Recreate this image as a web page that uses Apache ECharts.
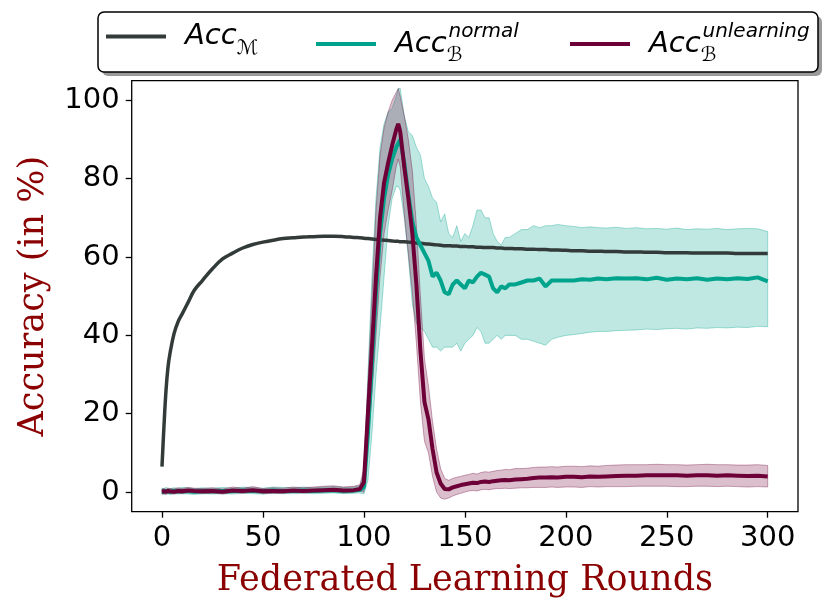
<!DOCTYPE html>
<html lang="en">
<head>
  <meta charset="UTF-8">
  <title>Accuracy over federated learning rounds</title>
  <style>
    * { margin: 0; padding: 0; }
    html, body { width: 830px; height: 614px; background: #fff; }
    #chart { width: 830px; height: 614px; }
  </style>
</head>
<body>
  <div id="chart"></div>

  <script src="https://cdn.jsdelivr.net/npm/echarts@6/dist/echarts.min.js"></script>
  <script>
    const rounds = [
      0, 1, 2, 3, 4, 6, 8, 10, 13, 16,
      20, 25, 30, 35, 40, 45, 50, 55, 60, 65,
      70, 75, 80, 85, 90, 95, 98, 100, 102, 104,
      106, 108, 110, 112, 114, 116, 117, 118, 120, 122,
      124, 126, 128, 130, 132, 134, 136, 138, 140, 142,
      144, 146, 148, 150, 152, 154, 156, 158, 160, 162,
      164, 166, 168, 170, 172, 175, 178, 181, 184, 187,
      190, 193, 196, 200, 204, 208, 212, 216, 220, 225,
      230, 235, 240, 245, 250, 255, 260, 265, 270, 275,
      280, 285, 290, 295, 300
    ];

    // Acc_M (main task accuracy)
    const accM = [
      6.5, 17, 26, 32, 35.5, 40.5, 43.5, 45.5, 48.5, 51.5,
      54, 57, 59.5, 61, 62.3, 63.2, 63.8, 64.3, 64.7, 64.9,
      65.1, 65.2, 65.3, 65.3, 65.2, 65, 64.9, 64.8, 64.7, 64.6,
      64.5, 64.4, 64.3, 64.2, 64.1, 64, 64, 63.9, 63.9, 63.8,
      63.7, 63.6, 63.5, 63.4, 63.3, 63.2, 63.1, 63, 62.9, 62.9,
      62.8, 62.8, 62.7, 62.7, 62.6, 62.6, 62.5, 62.5, 62.4, 62.4,
      62.4, 62.3, 62.3, 62.2, 62.2, 62.1, 62.1, 62, 62, 61.9,
      61.9, 61.8, 61.8, 61.7, 61.6, 61.6, 61.5, 61.5, 61.4, 61.4,
      61.3, 61.3, 61.2, 61.2, 61.1, 61.1, 61.1, 61, 61, 61,
      61, 60.9, 60.9, 60.9, 60.9
    ];

    // Acc_B normal: mean, upper and lower edge of the band
    const normalMean = [
      0.2, 0.1, 0.3, 0.2, 0.1, 0.3, 0.2, 0.3, 0.2, 0.1,
      0.3, 0.2, 0.3, 0.2, 0.4, 0.3, 0.2, 0.4, 0.3, 0.3,
      0.4, 0.3, 0.4, 0.5, 0.3, 0.4, 0.6, 1.2, 15, 33,
      51, 66, 75, 81, 85, 88, 89, 90, 84, 76,
      69, 65, 63, 61, 59, 55, 56, 54, 51, 50.5,
      53, 54, 53, 52, 54, 53.5, 55, 56, 55.5, 55,
      52, 51, 52.5, 52, 53, 53, 53.5, 54, 54, 54.5,
      52.5, 54, 54, 54, 54, 54.3, 54.2, 54.5, 54.3, 54.6,
      54.5, 54.6, 54.3, 54.7, 54.2, 54.5, 54.3, 54.6, 54.2, 54.5,
      54.3, 54.6, 54.4, 54.8, 53.8
    ];
    const normalHigh = [
      1.0, 0.9, 1.2, 1.0, 0.9, 1.1, 1.0, 1.2, 1.1, 0.9,
      1.1, 1.0, 1.2, 1.0, 1.3, 1.1, 1.0, 1.3, 1.2, 1.1,
      1.3, 1.1, 1.3, 1.4, 1.2, 1.3, 1.6, 5, 30, 55,
      75, 88, 94, 97, 98, 101, 103, 103, 96, 92,
      91, 88, 86, 80, 78, 75, 74, 69, 71, 66,
      65, 68, 64, 66, 65, 68, 72, 72, 70, 70,
      66, 64, 63, 65, 65, 66, 67, 67, 68, 67.5,
      68, 68, 68.3, 68, 67.8, 67.5, 67.7, 67.5, 67.4, 67.6,
      67.3, 67.5, 67.2, 67.3, 67.1, 67.4, 67, 67.2, 67.1, 67.3,
      67, 67.2, 67.3, 67.2, 66.5
    ];
    const normalLow = [
      -0.5, -0.6, -0.4, -0.5, -0.6, -0.4, -0.5, -0.4, -0.5, -0.6,
      -0.4, -0.5, -0.4, -0.5, -0.3, -0.4, -0.5, -0.3, -0.4, -0.4,
      -0.3, -0.4, -0.3, -0.2, -0.4, -0.3, -0.2, -0.5, 3, 15,
      30, 42, 55, 68, 75, 78, 78, 77, 70, 60,
      48, 43, 42, 41, 39, 37, 37, 36, 37, 37,
      37, 38, 36, 38, 39, 40, 42, 41, 38, 38,
      39, 40, 39, 40, 40, 40, 39, 39, 38.5, 38,
      37.5, 39, 39.5, 40, 40.2, 40.5, 40.8, 41, 41, 41.2,
      41.3, 41.4, 41.6, 41.5, 41.7, 41.8, 41.6, 41.9, 41.8, 42,
      41.9, 42.1, 42, 42.3, 42.2
    ];

    // Acc_B unlearning: mean, upper and lower edge of the band
    const unlearnMean = [
      0.1, 0.2, 0.1, 0.3, 0.2, 0.1, 0.3, 0.2, 0.4, 0.3,
      0.2, 0.3, 0.1, 0.4, 0.3, 0.5, 0.2, 0.3, 0.2, 0.4,
      0.3, 0.4, 0.5, 0.6, 0.4, 0.5, 0.8, 2.5, 20, 37,
      55, 70, 79, 84, 88.5, 92.5, 94, 92, 83, 75,
      66, 53, 36, 23, 18.5, 11, 5, 2.2, 0.8, 0.7,
      1.2, 1.5, 1.8, 2.0, 2.2, 2.4, 2.3, 2.6, 2.7, 2.6,
      2.8, 2.9, 3.0, 3.1, 3.0, 3.2, 3.3, 3.4, 3.6, 3.7,
      3.7, 3.8, 3.7, 3.9, 3.9, 3.8, 4.0, 3.9, 4.0, 4.1,
      4.2, 4.2, 4.3, 4.3, 4.3, 4.3, 4.2, 4.3, 4.3, 4.2,
      4.3, 4.2, 4.1, 4.2, 4.0
    ];
    const unlearnHigh = [
      0.8, 0.9, 0.7, 1.0, 0.9, 0.8, 1.1, 0.9, 1.2, 1.0,
      0.9, 1.1, 0.8, 1.3, 1.0, 1.4, 0.9, 1.1, 1.0, 1.3,
      1.1, 1.3, 1.5, 1.6, 1.3, 1.5, 1.9, 6, 28, 50,
      72, 86, 93, 97, 100, 102, 103, 101, 96, 90,
      82, 68, 50, 34, 27, 18, 11, 6, 3.5, 3,
      3.5, 3.8, 4, 4.3, 4.5, 4.8, 4.6, 5, 5.2, 5.1,
      5.3, 5.5, 5.6, 5.8, 5.7, 6, 6, 6.1, 6.3, 6.4,
      6.4, 6.5, 6.4, 6.6, 6.6, 6.5, 6.7, 6.6, 6.8, 6.9,
      7, 7, 7, 7.1, 7, 7, 6.9, 7, 7.1, 7,
      7, 6.9, 6.9, 7, 6.8
    ];
    const unlearnLow = [
      -0.5, -0.4, -0.6, -0.3, -0.4, -0.5, -0.2, -0.4, -0.1, -0.3,
      -0.4, -0.2, -0.5, -0.1, -0.3, 0, -0.4, -0.2, -0.3, -0.1,
      -0.2, -0.1, 0, 0.1, -0.2, 0, 0.2, 0, 12, 25,
      40, 55, 66, 72, 77, 83, 85, 83, 71, 61,
      51, 38, 23, 13, 10, 4, 0, -1.5, -1.8, -1.5,
      -1, -0.6, -0.3, 0, 0.3, 0.4, 0.3, 0.6, 0.7, 0.6,
      0.8, 0.9, 0.9, 1.0, 0.9, 1.0, 1.1, 1.1, 1.2, 1.2,
      1.2, 1.3, 1.2, 1.3, 1.3, 1.2, 1.4, 1.3, 1.4, 1.4,
      1.4, 1.5, 1.5, 1.5, 1.5, 1.4, 1.4, 1.5, 1.5, 1.4,
      1.5, 1.4, 1.3, 1.4, 1.3
    ];

    const xTicks = [0, 50, 100, 150, 200, 250, 300];
    const yTicks = [0, 20, 40, 60, 80, 100];

    const GREY = '#323b39';
    const TEAL = '#00a38c';
    const MAROON = '#6e0038';

    const chart = echarts.init(document.getElementById('chart'), null, { renderer: 'canvas' });

    const pairs = ys => rounds.map((r, i) => [r, ys[i]]);

    // fill_between look-alike: one polygon through api.coord
    function band(name, lo, hi, rgb) {
      return {
        name: name,
        type: 'custom',
        coordinateSystem: 'cartesian2d',
        z: 1,
        silent: true,
        data: rounds.map((r, i) => [r, lo[i], hi[i]]),
        encode: { x: 0, y: [1, 2] },
        renderItem: (params, api) => {
          if (params.dataIndex !== 0) return null;
          const pts = [];
          for (let i = 0; i < rounds.length; i++) pts.push(api.coord([rounds[i], hi[i]]));
          for (let i = rounds.length - 1; i >= 0; i--) pts.push(api.coord([rounds[i], lo[i]]));
          return {
            type: 'polygon',
            shape: { points: pts },
            style: {
              fill: 'rgba(' + rgb + ',0.25)',
              stroke: 'rgba(' + rgb + ',0.35)',
              lineWidth: 1
            }
          };
        }
      };
    }

    function line(name, ys, color, width, z, smooth) {
      return {
        name: name,
        type: 'line',
        data: pairs(ys),
        symbol: 'none',
        smooth: smooth || false,
        z: z,
        lineStyle: { color: color, width: width },
        itemStyle: { color: color }
      };
    }

    const legendRich = {
      acc: { fontFamily: 'DejaVu Sans', fontStyle: 'italic', fontSize: 29, lineHeight: 44, verticalAlign: 'middle', color: '#000' },
      sub: { fontFamily: 'DejaVu Sans', fontStyle: 'italic', fontSize: 20, lineHeight: 26, verticalAlign: 'bottom', color: '#000' },
      supB: { fontFamily: 'DejaVu Sans', fontStyle: 'italic', fontSize: 20, lineHeight: 26, verticalAlign: 'top', color: '#000', padding: [0, 0, 0, -14] }
    };

    function legendAt(left, name, text) {
      return {
        data: [name],
        left: left,
        top: 22,
        padding: 0,
        icon: 'rect',
        itemWidth: 60,
        itemHeight: 4,
        selectedMode: false,
        formatter: () => text,
        textStyle: { padding: [0, 0, 0, 14], rich: legendRich }
      };
    }

    const option = {
      animation: false,
      backgroundColor: '#fff',
      grid: {
        left: 131.7, right: 32, top: 80.7, bottom: 102.3,
        show: true, borderColor: '#000', borderWidth: 1.3,
        outerBoundsMode: 'none'
      },
      graphic: [
        { type: 'rect', z: 1, shape: { x: 102, y: 16, width: 720, height: 60, r: 6 }, style: { fill: '#9a9a9a' } },
        { type: 'rect', z: 2, shape: { x: 98, y: 12, width: 720, height: 60, r: 6 }, style: { fill: '#fff', stroke: '#000', lineWidth: 1.5 } }
      ],
      legend: [
        legendAt(106, 'AccM', '{acc|Acc}{sub|ℳ}'),
        legendAt(316, 'AccNormal', '{acc|Acc}{sub|ℬ}{supB|normal}'),
        legendAt(570, 'AccUnlearning', '{acc|Acc}{sub|ℬ}{supB|unlearning}')
      ],
      xAxis: {
        type: 'value',
        min: -15, max: 315,
        name: 'Federated Learning Rounds',
        nameLocation: 'middle',
        nameGap: 52,
        nameTextStyle: { fontFamily: 'DejaVu Serif', fontSize: 35, color: '#8b0000' },
        axisLine: { show: false, onZero: false },
        splitLine: { show: false },
        axisTick: { show: true, length: 6, customValues: xTicks, lineStyle: { color: '#000', width: 1.3 } },
        axisLabel: { customValues: xTicks, margin: 12, fontFamily: 'DejaVu Sans', fontSize: 29, color: '#000' }
      },
      yAxis: {
        type: 'value',
        min: -5, max: 105,
        name: 'Accuracy (in %)',
        nameLocation: 'middle',
        nameGap: 80,
        nameTextStyle: { fontFamily: 'DejaVu Serif', fontSize: 35, color: '#8b0000' },
        axisLine: { show: false, onZero: false },
        splitLine: { show: false },
        axisTick: { show: true, length: 6, customValues: yTicks, lineStyle: { color: '#000', width: 1.3 } },
        axisLabel: { customValues: yTicks, margin: 12, fontFamily: 'DejaVu Sans', fontSize: 29, color: '#000' }
      },
      series: [
        band('normalBand', normalLow, normalHigh, '0,163,140'),
        band('unlearnBand', unlearnLow, unlearnHigh, '110,0,56'),
        line('AccM', accM, GREY, 3.5, 3, 0.4),
        line('AccNormal', normalMean, TEAL, 4, 4),
        line('AccUnlearning', unlearnMean, MAROON, 4, 5)
      ]
    };

    chart.setOption(option);
  </script>
</body>
</html>
